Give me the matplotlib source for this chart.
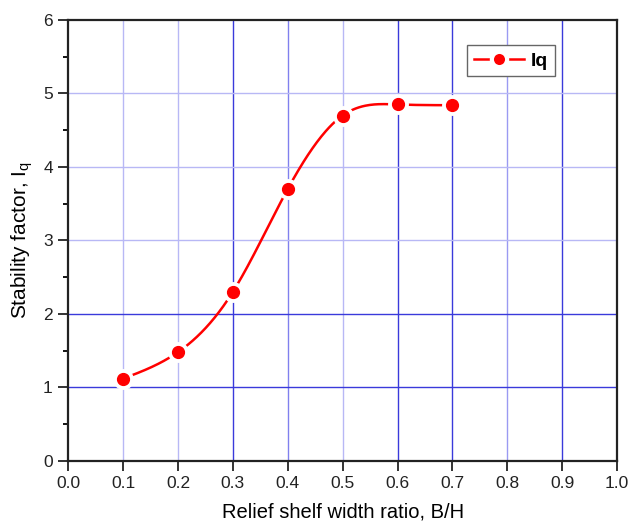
import numpy as np
import matplotlib.pyplot as plt
from matplotlib.ticker import MultipleLocator
from matplotlib.lines import Line2D

plt.rcParams['font.family'] = ['Liberation Sans', 'DejaVu Sans']

# data
ratio_bh = [0.1, 0.2, 0.3, 0.4, 0.5, 0.6, 0.7]
iq = [1.12, 1.48, 2.30, 3.70, 4.70, 4.85, 4.84]


def natural_spline(x, y, n=300):
    # natural cubic spline, only used to draw the smooth connecting line
    x = np.asarray(x, float)
    y = np.asarray(y, float)
    k = len(x)
    h = np.diff(x)
    A = np.zeros((k, k))
    b = np.zeros(k)
    A[0, 0] = A[-1, -1] = 1
    for i in range(1, k - 1):
        A[i, i - 1] = h[i - 1]
        A[i, i] = 2 * (h[i - 1] + h[i])
        A[i, i + 1] = h[i]
        b[i] = 6 * ((y[i + 1] - y[i]) / h[i] - (y[i] - y[i - 1]) / h[i - 1])
    m = np.linalg.solve(A, b)
    xs = np.linspace(x[0], x[-1], n)
    idx = np.clip(np.searchsorted(x, xs) - 1, 0, k - 2)
    t0 = xs - x[idx]
    t1 = x[idx + 1] - xs
    hi = h[idx]
    ys = (m[idx] * t1**3 / (6 * hi) + m[idx + 1] * t0**3 / (6 * hi)
          + (y[idx] / hi - m[idx] * hi / 6) * t1
          + (y[idx + 1] / hi - m[idx + 1] * hi / 6) * t0)
    return xs, ys


fig = plt.figure(figsize=(6.31, 5.25), dpi=100)
ax = fig.add_axes([0.108, 0.122, 0.870, 0.840])

# grid, Origin style with uneven line shades
dark = '#3a3adb'
light = '#b8b8f5'
vgrid = {0.1: light, 0.2: light, 0.3: dark, 0.4: '#8080ee', 0.5: light,
         0.6: dark, 0.7: dark, 0.8: '#9a9af2', 0.9: dark}
hgrid = {1: dark, 2: dark, 3: light, 4: light, 5: light}
for xv, c in vgrid.items():
    ax.axvline(xv, color=c, lw=1.0, zorder=0)
for yv, c in hgrid.items():
    ax.axhline(yv, color=c, lw=1.0, zorder=0)

xs, ys = natural_spline(ratio_bh, iq)
ax.plot(xs, ys, color='#ff0000', lw=1.8, zorder=2)
ax.plot(ratio_bh, iq, 'o', color='white', ms=14, zorder=3)
ax.plot(ratio_bh, iq, 'o', color='#ff0000', ms=8.5, zorder=4)

# legend handle with a gap around the symbol
handle = Line2D([], [], color='#ff0000', lw=1.8, marker='o', ms=11,
                markerfacecolor='#ff0000', markeredgecolor='white', mew=3)
leg = ax.legend([handle], ['Iq'], loc='upper right', bbox_to_anchor=(0.887, 0.943),
                borderaxespad=0, fontsize=14, fancybox=False, handlelength=2.6,
                handletextpad=0.35, borderpad=0.35, framealpha=1, edgecolor='#666666')
leg.get_frame().set_linewidth(1.0)
for t in leg.get_texts():
    t.set_fontweight('bold')

ax.set_xlim(0, 1.0)
ax.set_ylim(0, 6)
ax.set_xticks(np.arange(0, 1.01, 0.1))
ax.set_xticklabels([f'{v:.1f}' for v in np.arange(0, 1.01, 0.1)])
ax.yaxis.set_major_locator(MultipleLocator(1))
ax.yaxis.set_minor_locator(MultipleLocator(0.5))
ax.tick_params(axis='both', which='major', direction='out', length=7, width=1.3,
               labelsize=12.5, colors='#222222', pad=4)
ax.tick_params(axis='y', which='minor', direction='out', length=3.5, width=1.3)
for s in ax.spines.values():
    s.set_linewidth(1.6)
    s.set_color('#222222')

ax.set_xlabel('Relief shelf width ratio, B/H', fontsize=14.5, labelpad=8)
ax.set_ylabel('Stability factor, I$_\\mathregular{q}$', fontsize=15, labelpad=6)

fig.savefig('out.png', dpi=100)
